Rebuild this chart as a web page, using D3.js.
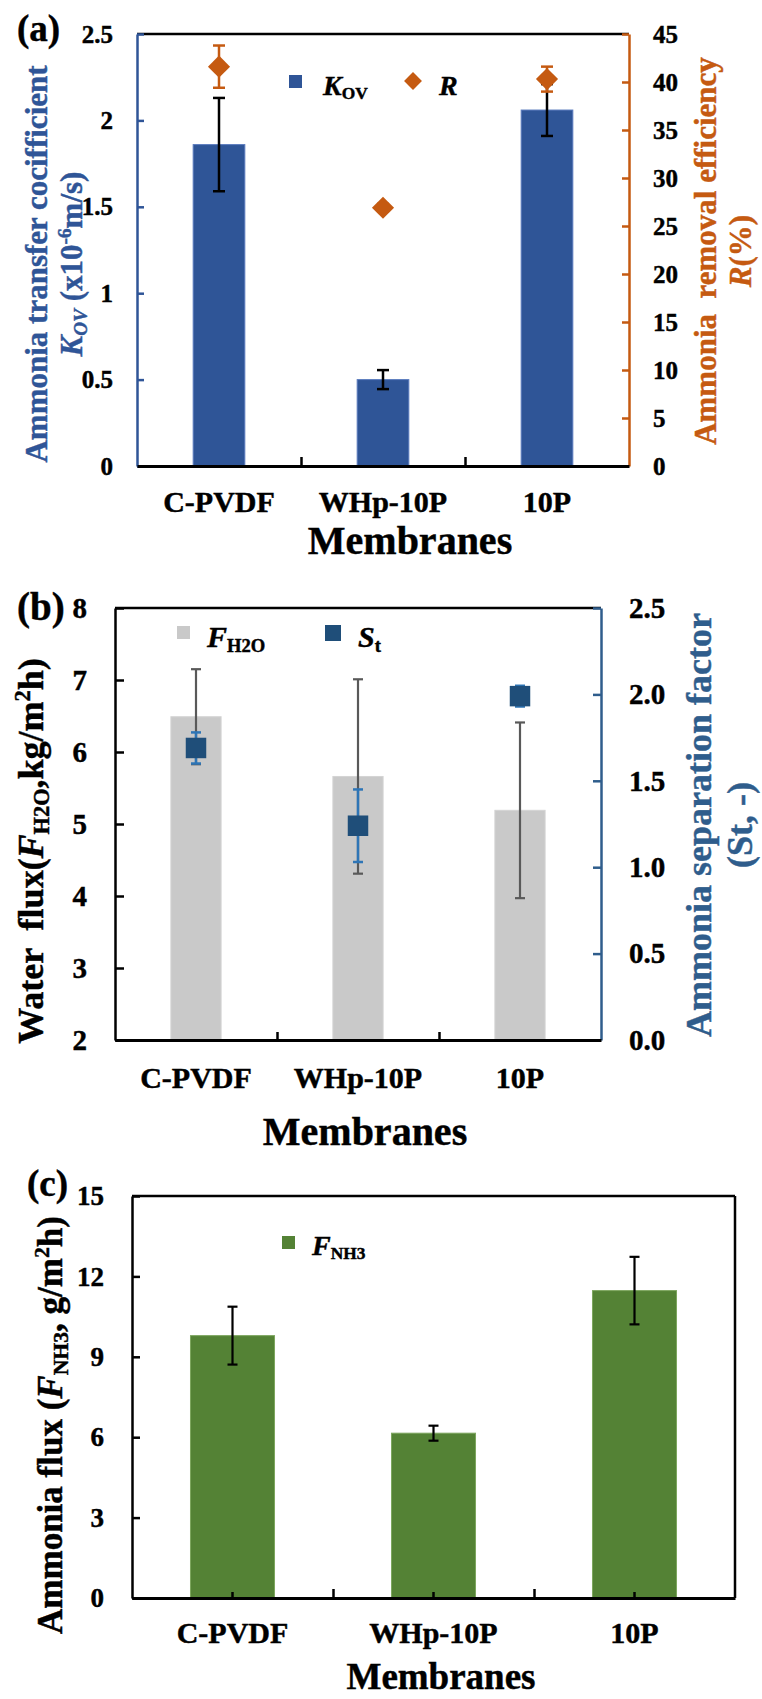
<!DOCTYPE html>
<html><head><meta charset="utf-8">
<script src="https://cdn.jsdelivr.net/npm/d3@7"></script>
<style>
body{margin:0;background:#fff}
svg{display:block}
text{font-family:"Liberation Serif","Times New Roman",serif;font-weight:bold;white-space:pre}
</style>
</head><body>
<svg id="chart" width="762" height="1699"></svg>
<script>
// ---------- DATA ----------
const categories = ["C-PVDF", "WHp-10P", "10P"];
// panel (a)
const kov = [1.86, 0.50, 2.06];
const kovErr = [0.27, 0.055, 0.15];
const removal = [41.6, 26.9, 40.3];
const removalErr = [2.2, 0.4, 1.3];
const kovTicks = [0, 0.5, 1, 1.5, 2, 2.5];
const kovTickLabels = ["0", "0.5", "1", "1.5", "2", "2.5"];
const removalTicks = [0, 5, 10, 15, 20, 25, 30, 35, 40, 45];
// panel (b)
const waterFlux = [6.49, 5.66, 5.19];
const waterFluxErr = [0.66, 1.35, 1.22];
const sepFactor = [1.69, 1.24, 1.99];
const sepFactorErr = [0.09, 0.21, 0.06];
const waterTicks = [2, 3, 4, 5, 6, 7, 8];
const sepTicks = [0, 0.5, 1, 1.5, 2, 2.5];
const sepTickLabels = ["0.0", "0.5", "1.0", "1.5", "2.0", "2.5"];
// panel (c)
const nh3Flux = [9.79, 6.15, 11.47];
const nh3FluxErr = [1.08, 0.28, 1.26];
const nh3Ticks = [0, 3, 6, 9, 12, 15];

// ---------- HELPERS ----------
const svg = d3.select("#chart");
const FONT = '"Liberation Serif","Times New Roman",serif';
const TSTROKE = 0.45;

function rich(sel, segs, fs) {
  let shift = 0;
  segs.forEach(([t, m]) => {
    m = m || "";
    const ts = sel.append("tspan").text(t);
    let target = 0, size = fs;
    if (m.includes("sub")) { target = 0.16 * fs; size = 0.62 * fs; }
    if (m.includes("sup")) { target = -0.36 * fs; size = 0.62 * fs; }
    ts.attr("dy", target - shift).style("font-size", size + "px");
    if (m.startsWith("i")) ts.style("font-style", "italic");
    shift = target;
  });
  return sel;
}
function rotTitle(x, y, segs, fs, color) {
  const t = svg.append("text")
    .attr("transform", `translate(${x},${y}) rotate(-90)`)
    .attr("text-anchor", "middle").attr("fill", color)
    .attr("stroke", color).attr("stroke-width", TSTROKE)
    .style("font-size", fs + "px");
  rich(t, segs, fs);
}
function hText(x, y, segs, fs, color, anchor) {
  const t = svg.append("text").attr("x", x).attr("y", y)
    .attr("text-anchor", anchor || "start").attr("fill", color || "#000")
    .attr("stroke", color || "#000").attr("stroke-width", TSTROKE)
    .style("font-size", fs + "px");
  rich(t, segs, fs);
}
function styleTickText(sel, fs) {
  sel.attr("fill", "#000").attr("stroke", "#000").attr("stroke-width", TSTROKE)
    .attr("font-family", FONT).style("font-size", fs + "px").style("font-weight", "bold");
}
function yAxis(scale, side, x, ticks, labels, color, fs, tickLen, pad, sw) {
  const ax = (side === "left" ? d3.axisLeft(scale) : d3.axisRight(scale))
    .tickValues(ticks)
    .tickFormat((d, i) => labels ? labels[i] : String(d))
    .tickSizeInner(-tickLen).tickSizeOuter(0).tickPadding(pad);
  const g = svg.append("g").attr("transform", `translate(${x},0)`).call(ax);
  g.select(".domain").attr("stroke", color).attr("stroke-width", sw);
  g.selectAll(".tick line").attr("stroke", color).attr("stroke-width", sw);
  styleTickText(g.selectAll(".tick text"), fs);
  return g;
}
function bottomAxis(xBand, yPos, fs, labelOffset, bTickLen, centerTicks) {
  const [l, r] = xBand.range();
  const bnd = d3.scaleLinear().domain([0, xBand.domain().length]).range([l, r]);
  const g1 = svg.append("g").attr("transform", `translate(0,${yPos})`)
    .call(d3.axisBottom(bnd).tickValues(d3.range(1, xBand.domain().length))
      .tickFormat("").tickSizeInner(-bTickLen).tickSizeOuter(0));
  g1.select(".domain").attr("stroke", "#000").attr("stroke-width", 3);
  g1.selectAll(".tick line").attr("stroke", "#000").attr("stroke-width", 2.5);
  const g2 = svg.append("g").attr("transform", `translate(0,${yPos})`)
    .call(d3.axisBottom(xBand).tickSizeInner(centerTicks ? -centerTicks : 0).tickSizeOuter(0));
  g2.select(".domain").remove();
  g2.selectAll(".tick line").attr("stroke", "#000").attr("stroke-width", 2.5);
  styleTickText(g2.selectAll(".tick text").attr("y", labelOffset).attr("dy", null), fs);
}
function topLine(xBand, y, color) {
  const [l, r] = xBand.range();
  svg.append("line").attr("x1", l).attr("x2", r).attr("y1", y).attr("y2", y)
    .attr("stroke", color || "#000").attr("stroke-width", 2.5);
}
function errBars(xBand, yScale, vals, errs, color, sw, cap) {
  const g = svg.append("g").attr("stroke", color).attr("stroke-width", sw).attr("fill", "none");
  categories.forEach((c, i) => {
    const cx = xBand(c) + xBand.bandwidth() / 2;
    const y1 = yScale(vals[i] + errs[i]), y2 = yScale(vals[i] - errs[i]);
    g.append("line").attr("x1", cx).attr("x2", cx).attr("y1", y1).attr("y2", y2);
    g.append("line").attr("x1", cx - cap / 2).attr("x2", cx + cap / 2).attr("y1", y1).attr("y2", y1);
    g.append("line").attr("x1", cx - cap / 2).attr("x2", cx + cap / 2).attr("y1", y2).attr("y2", y2);
  });
}
function bars(xBand, yScale, vals, base, fill, stroke) {
  svg.append("g").selectAll("rect").data(vals).join("rect")
    .attr("x", (d, i) => xBand(categories[i]))
    .attr("y", d => yScale(d))
    .attr("width", xBand.bandwidth())
    .attr("height", d => yScale(base) - yScale(d))
    .attr("fill", fill).attr("stroke", stroke || "none").attr("stroke-width", 1);
}

// ---------- PANEL (a) ----------
const A = {l: 137, r: 629, t: 34, b: 466};
const BLUE_A = "#2F5597", ORANGE = "#C55A11";
const xa = d3.scaleBand().domain(categories).range([A.l, A.r]).paddingInner(0.685).paddingOuter(0.3425);
const ya = d3.scaleLinear().domain([0, 2.5]).range([A.b, A.t]);
const ya2 = d3.scaleLinear().domain([0, 45]).range([A.b, A.t]);

bars(xa, ya, kov, 0, BLUE_A, "#5A7BBE");
errBars(xa, ya, kov, kovErr, "#000", 2.5, 12);
topLine(xa, A.t, "#000");
yAxis(ya, "left", A.l, kovTicks, kovTickLabels, BLUE_A, 25, 7, 24, 2.5);
yAxis(ya2, "right", A.r, removalTicks, null, ORANGE, 25, 7, 24, 2.5);
bottomAxis(xa, A.b, 30, 46, 9, 0);
errBars(xa, ya2, removal, removalErr, ORANGE, 2.5, 12);
svg.append("g").selectAll("path").data(removal).join("path")
  .attr("d", d3.symbol(d3.symbolSquare, 245))
  .attr("transform", (d, i) => `translate(${xa(categories[i]) + xa.bandwidth() / 2},${ya2(d)}) rotate(45)`)
  .attr("fill", ORANGE);
// legend (a)
svg.append("rect").attr("x", 289).attr("y", 75).attr("width", 13).attr("height", 13).attr("fill", BLUE_A);
hText(323, 95, [["K", "i"], ["OV", "sub"]], 28, "#000");
svg.append("path").attr("d", d3.symbol(d3.symbolSquare, 160)).attr("transform", "translate(413,81) rotate(45)").attr("fill", ORANGE);
hText(439, 95, [["R", "i"]], 28, "#000");
// titles (a)
rotTitle(47, 264, [["Ammonia transfer cocifficient"]], 31, BLUE_A);
rotTitle(82, 264, [["K", "i"], ["OV", "isub"], [" (x10"], ["-6", "sup"], ["m/s)"]], 31, BLUE_A);
rotTitle(716, 251, [["Ammonia  removal efficiency"]], 31, ORANGE);
rotTitle(751, 251, [["R", "i"], ["(%)"]], 31, ORANGE);
hText(410, 554, [["Membranes"]], 40, "#000", "middle");
hText(17, 41, [["(a)"]], 37, "#000");

// ---------- PANEL (b) ----------
const B = {l: 115, r: 601, t: 608, b: 1040};
const BLUE_B = "#2F5D8C", GRAY = "#C9C9C9";
const xb = d3.scaleBand().domain(categories).range([B.l, B.r]).paddingInner(0.69).paddingOuter(0.345);
const yb = d3.scaleLinear().domain([2, 8]).range([B.b, B.t]);
const yb2 = d3.scaleLinear().domain([0, 2.5]).range([B.b, B.t]);

bars(xb, yb, waterFlux, 2, GRAY, "#D4D4D4");
errBars(xb, yb, waterFlux, waterFluxErr, "#595959", 2.2, 10);
topLine(xb, B.t, "#000");
yAxis(yb, "left", B.l, waterTicks, null, "#000", 29, 9, 28, 2.5);
yAxis(yb2, "right", B.r, sepTicks, sepTickLabels, BLUE_B, 29, 8, 28, 2.5);
bottomAxis(xb, B.b, 30, 48, 8, 0);
errBars(xb, yb2, sepFactor, sepFactorErr, "#2E75B6", 2.5, 10);
svg.append("g").selectAll("path").data(sepFactor).join("path")
  .attr("d", d3.symbol(d3.symbolSquare, 420))
  .attr("transform", (d, i) => `translate(${xb(categories[i]) + xb.bandwidth() / 2},${yb2(d)})`)
  .attr("fill", "#1F4E79");
// legend (b)
svg.append("rect").attr("x", 177).attr("y", 626).attr("width", 13).attr("height", 13).attr("fill", GRAY);
hText(207, 647, [["F", "i"], ["H2O", "sub"]], 30, "#000");
svg.append("rect").attr("x", 325).attr("y", 625).attr("width", 16).attr("height", 16).attr("fill", "#1F4E79");
hText(358, 647, [["S", "i"], ["t", "sub"]], 30, "#000");
// titles (b)
rotTitle(43, 851, [["Water  flux("], ["F", "i"], ["H2O", "sub"], [",kg/m"], ["2", "sup"], ["h)"]], 36, "#000");
rotTitle(711, 825, [["Ammonia separation factor"]], 36, BLUE_B);
rotTitle(752, 825, [["(St, -)"]], 36, BLUE_B);
hText(365, 1145, [["Membranes"]], 40, "#000", "middle");
hText(17, 620, [["(b)"]], 39, "#000");

// ---------- PANEL (c) ----------
const C = {l: 132, r: 735, t: 1196, b: 1598};
const GREEN = "#548235";
const xc = d3.scaleBand().domain(categories).range([C.l, C.r]).paddingInner(0.582).paddingOuter(0.291);
const yc = d3.scaleLinear().domain([0, 15]).range([C.b, C.t]);

bars(xc, yc, nh3Flux, 0, GREEN, "#7DA65E");
errBars(xc, yc, nh3Flux, nh3FluxErr, "#000", 2.2, 10);
topLine(xc, C.t, "#000");
yAxis(yc, "left", C.l, nh3Ticks, null, "#000", 27, 8, 28, 2.5);
svg.append("line").attr("x1", C.r).attr("x2", C.r).attr("y1", yc(15)).attr("y2", yc(0))
  .attr("stroke", "#000").attr("stroke-width", 2.5);
bottomAxis(xc, C.b, 30, 45, 9, 6);
// legend (c)
svg.append("rect").attr("x", 282).attr("y", 1236).attr("width", 13).attr("height", 13).attr("fill", GREEN);
hText(312, 1255, [["F", "i"], ["NH3", "sub"]], 28, "#000");
// titles (c)
rotTitle(62, 1425, [["Ammonia flux ("], ["F", "i"], ["NH3", "sub"], [", g/m"], ["2", "sup"], ["h)"]], 35, "#000");
hText(441, 1689, [["Membranes"]], 37, "#000", "middle");
hText(27, 1196, [["(c)"]], 37, "#000");
</script>
</body></html>
